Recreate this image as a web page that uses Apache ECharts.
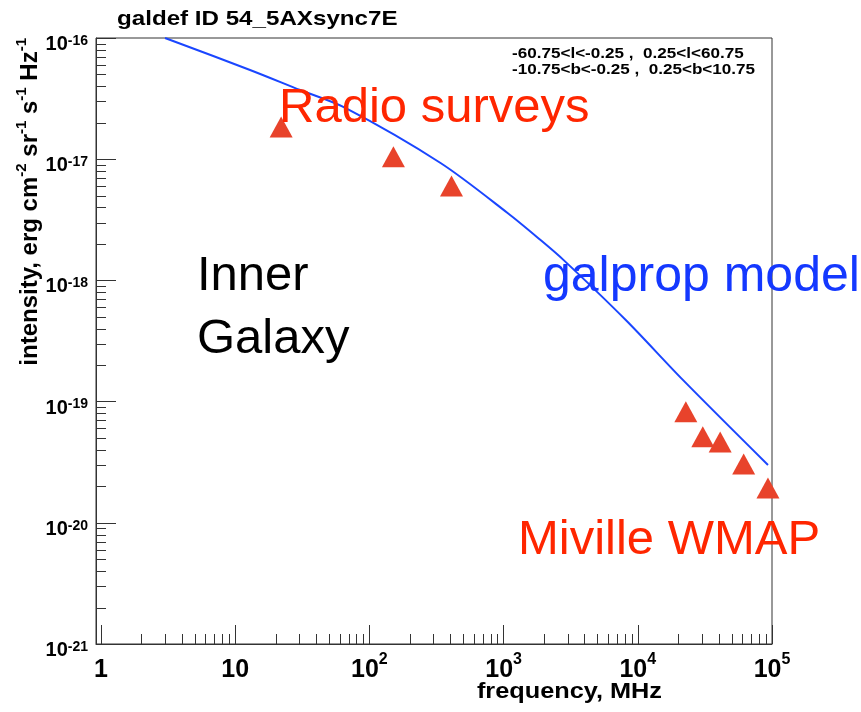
<!DOCTYPE html>
<html><head><meta charset="utf-8">
<script src="https://cdn.jsdelivr.net/npm/echarts@6/dist/echarts.min.js"></script>
<style>html,body{margin:0;padding:0;background:#fff}#c{width:861px;height:712px}</style>
</head><body><div id="c"></div>
<script>
// ---- data ----
const xTickValues = [1, 10, 100, 1000, 10000, 100000];
const xTickLabels = [['1', ''], ['10', ''], ['10', '2'], ['10', '3'], ['10', '4'], ['10', '5']];
const yTickValues = [1e-21, 1e-20, 1e-19, 1e-18, 1e-17, 1e-16];
const yTickLabels = [['10', '-21'], ['10', '-20'], ['10', '-19'], ['10', '-18'], ['10', '-17'], ['10', '-16']];
const minorMultipliers = [2, 3, 4, 5, 6, 7, 8, 9];

const radioFreq = [22, 151, 409];
const radioIntensity = [1.84e-17, 1.05e-17, 6.0e-18];
const wmapFreq = [22800, 30500, 41100, 61500, 93300];
const wmapIntensity = [8.26e-20, 5.13e-20, 4.64e-20, 3.06e-20, 1.94e-20];
const modelFreq = [3.0, 12.9, 30.5, 66.2, 339, 1071, 1888, 2804, 8136, 21670, 93350];
const modelIntensity = [1.0e-16, 5.45e-17, 3.72e-17, 2.65e-17, 9.3e-18, 3.6e-18, 2.15e-18, 1.47e-18, 4.71e-19, 1.51e-19, 3.0e-20];

const xMin = 0.918, xMax = 1e5, yMin = 0.9999e-21, yMax = 1e-16;

// ---- build ----
const FONT = 'Liberation Sans';
const xMinor = [], yMinor = [];
for (let i = 0; i < xTickValues.length - 1; i++) minorMultipliers.forEach(k => xMinor.push([k * xTickValues[i], 1e-18]));
for (let i = 0; i < yTickValues.length - 1; i++) minorMultipliers.forEach(k => yMinor.push([1, k * yTickValues[i]]));

function findLabel(values, labels, v) {
  for (let i = 0; i < values.length; i++) {
    if (Math.abs(Math.log10(v) - Math.log10(values[i])) < 1e-6) return labels[i];
  }
  return null;
}

const chart = echarts.init(document.getElementById('c'));
chart.setOption({
  animation: false,
  backgroundColor: '#fff',
  grid: { left: 96, right: 89, top: 38, bottom: 68, show: true, borderColor: '#333', borderWidth: 1, containLabel: false, outerBoundsMode: 'none' },
  xAxis: {
    type: 'log', logBase: 10, min: xMin, max: xMax,
    axisLine: { onZero: false, lineStyle: { color: '#333', width: 1 } },
    axisTick: { inside: true, length: 19, lineStyle: { color: '#333' } },
    splitLine: { show: false },
    axisLabel: {
      margin: 8, color: '#000', showMinLabel: true, showMaxLabel: true,
      formatter: v => { const l = findLabel(xTickValues, xTickLabels, v); if (!l) return ''; return l[1] ? '{b|' + l[0] + '}{s|' + l[1] + '}' : '{b|' + l[0] + '}'; },
      rich: {
        b: { fontFamily: FONT, fontWeight: 'bold', fontSize: 25, lineHeight: 36, color: '#000' },
        s: { fontFamily: FONT, fontWeight: 'bold', fontSize: 16, lineHeight: 18, verticalAlign: 'top', color: '#000' }
      }
    }
  },
  yAxis: {
    type: 'log', logBase: 10, min: yMin, max: yMax,
    axisLine: { onZero: false, lineStyle: { color: '#333', width: 1 } },
    axisTick: { inside: true, length: 20, lineStyle: { color: '#333' } },
    splitLine: { show: false },
    axisLabel: {
      margin: 8, color: '#000', showMinLabel: true, showMaxLabel: true,
      formatter: v => { const l = findLabel(yTickValues, yTickLabels, v); if (!l) return ''; return '{b|' + l[0] + '}{s|' + l[1] + '}'; },
      rich: {
        b: { fontFamily: FONT, fontWeight: 'bold', fontSize: 20, lineHeight: 28, padding: [13, 0, 0, 0], color: '#000' },
        s: { fontFamily: FONT, fontWeight: 'bold', fontSize: 14, lineHeight: 16, padding: [10, 0, 0, 0], verticalAlign: 'top', color: '#000' }
      }
    }
  },
  series: [
    {
      type: 'custom', silent: true, z: 1, data: xMinor,
      renderItem: (params, api) => {
        const cs = params.coordSys;
        const x = Math.round(api.coord([api.value(0), api.value(1)])[0]) + 0.5;
        const yb = cs.y + cs.height;
        return { type: 'line', shape: { x1: x, y1: yb, x2: x, y2: yb - 10 }, style: { stroke: '#333', lineWidth: 1 } };
      }
    },
    {
      type: 'custom', silent: true, z: 1, data: yMinor,
      renderItem: (params, api) => {
        const cs = params.coordSys;
        const y = Math.round(api.coord([api.value(0), api.value(1)])[1]) + 0.5;
        return { type: 'line', shape: { x1: cs.x, y1: y, x2: cs.x + 10, y2: y }, style: { stroke: '#333', lineWidth: 1 } };
      }
    },
    {
      type: 'line', name: 'galprop model', data: modelFreq.map((f, i) => [f, modelIntensity[i]]),
      smooth: 0.3, showSymbol: false, symbol: 'none', clip: true, z: 3,
      lineStyle: { color: '#1a46ff', width: 2 }
    },
    {
      type: 'scatter', name: 'Radio surveys', data: radioFreq.map((f, i) => [f, radioIntensity[i]]),
      symbol: 'triangle', symbolSize: [23, 21], itemStyle: { color: '#e8432b', opacity: 1 }, z: 4
    },
    {
      type: 'scatter', name: 'Miville WMAP', data: wmapFreq.map((f, i) => [f, wmapIntensity[i]]),
      symbol: 'triangle', symbolSize: [23, 21], itemStyle: { color: '#e8432b', opacity: 1 }, clip: false, z: 4
    }
  ],
  graphic: [
    { type: 'text', x: 117, y: 19, scaleX: 1.15, z: 10,
      style: { text: 'galdef ID 54_5AXsync7E', fontFamily: FONT, fontWeight: 'bold', fontSize: 21, fill: '#000', align: 'left', verticalAlign: 'middle' } },
    { type: 'text', x: 512, y: 54, scaleX: 1.22, z: 10,
      style: { text: '-60.75<l<-0.25 ,  0.25<l<60.75', fontFamily: FONT, fontWeight: 'bold', fontSize: 14, fill: '#000', align: 'left', verticalAlign: 'middle' } },
    { type: 'text', x: 512, y: 70, scaleX: 1.22, z: 10,
      style: { text: '-10.75<b<-0.25 ,  0.25<b<10.75', fontFamily: FONT, fontWeight: 'bold', fontSize: 14, fill: '#000', align: 'left', verticalAlign: 'middle' } },
    { type: 'text', x: 662, y: 692, scaleX: 1.15, z: 10,
      style: { text: 'frequency, MHz', fontFamily: FONT, fontWeight: 'bold', fontSize: 22, fill: '#000', align: 'right', verticalAlign: 'middle' } },
    { type: 'text', x: 30, y: 38, rotation: Math.PI / 2, z: 10,
      style: {
        text: '{b|intensity, erg cm}{s|-2}{b| sr}{s|-1}{b| s}{s|-1}{b| Hz}{s|-1}',
        align: 'right', verticalAlign: 'middle',
        rich: {
          b: { fontFamily: FONT, fontWeight: 'bold', fontSize: 24, lineHeight: 32, fill: '#000' },
          s: { fontFamily: FONT, fontWeight: 'bold', fontSize: 15, lineHeight: 16, verticalAlign: 'top', fill: '#000' }
        }
      } },
    { type: 'text', x: 279, y: 108, z: 10,
      style: { text: 'Radio surveys', fontFamily: FONT, fontSize: 49, fill: '#ff2600', align: 'left', verticalAlign: 'middle' } },
    { type: 'text', x: 543, y: 277, z: 10,
      style: { text: 'galprop model', fontFamily: FONT, fontSize: 50, fill: '#1438ff', align: 'left', verticalAlign: 'middle' } },
    { type: 'text', x: 197, y: 276, z: 10,
      style: { text: 'Inner', fontFamily: FONT, fontSize: 49, fill: '#000', align: 'left', verticalAlign: 'middle' } },
    { type: 'text', x: 197, y: 339, z: 10,
      style: { text: 'Galaxy', fontFamily: FONT, fontSize: 49, fill: '#000', align: 'left', verticalAlign: 'middle' } },
    { type: 'text', x: 518, y: 540, z: 10,
      style: { text: 'Miville WMAP', fontFamily: FONT, fontSize: 49, fill: '#ff2600', align: 'left', verticalAlign: 'middle' } }
  ]
});
</script>
</body></html>
